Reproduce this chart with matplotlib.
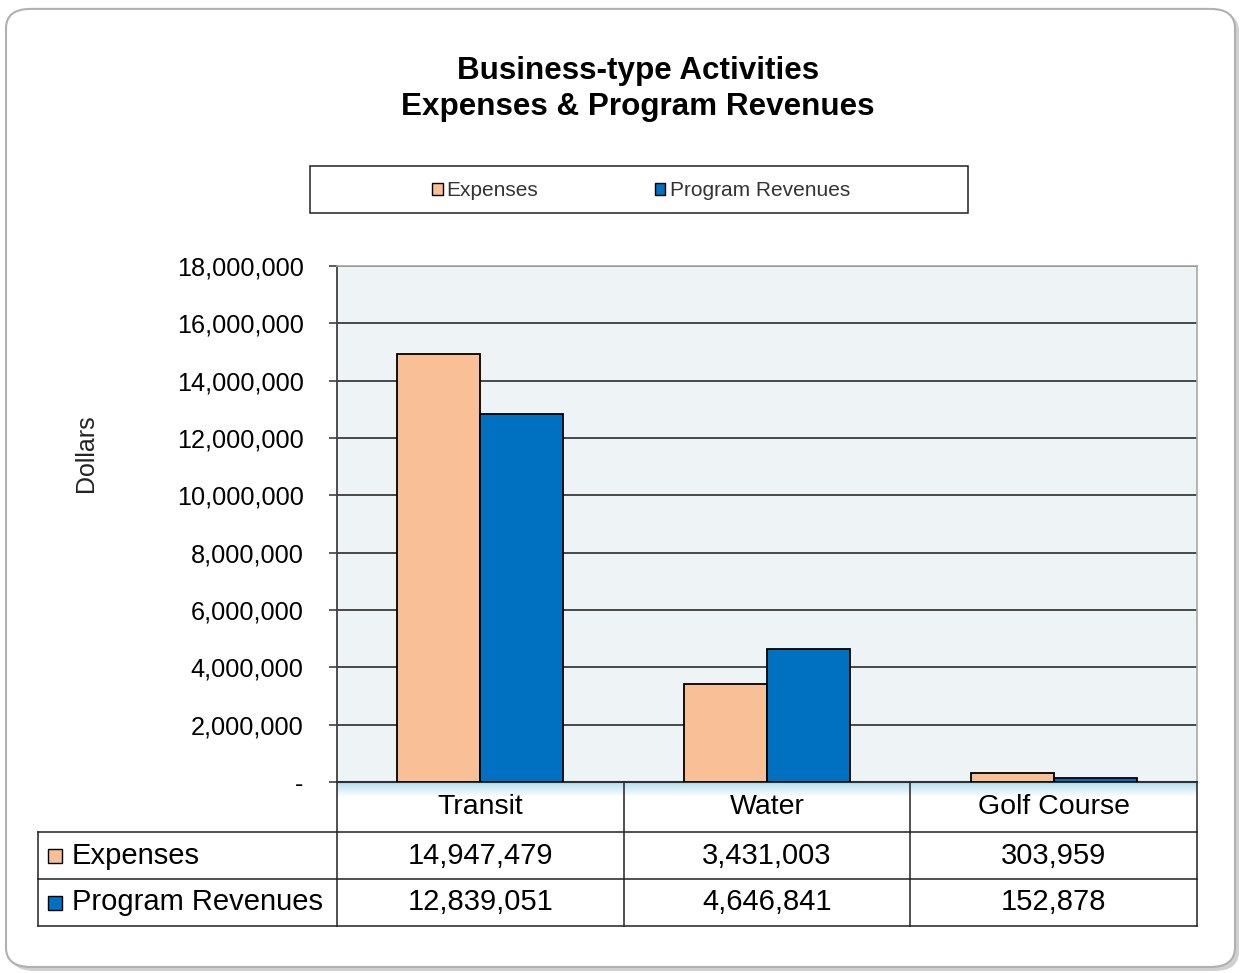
import numpy as np
import matplotlib.pyplot as plt
import matplotlib.transforms as mtransforms
from matplotlib.patches import Rectangle, FancyBboxPatch
from matplotlib.ticker import FuncFormatter
from matplotlib.colors import LinearSegmentedColormap

plt.rcParams['font.family'] = ['Liberation Sans', 'DejaVu Sans']

# Chart data
categories = ['Transit', 'Water', 'Golf Course']
series_names = ['Expenses', 'Program Revenues']
expenses = [14947479, 3431003, 303959]
revenues = [12839051, 4646841, 152878]
colors = ['#F9BF96', '#0070C0']

W, H = 1241, 973
fig = plt.figure(figsize=(W / 100, H / 100), dpi=100)


def fx(px):
    return px / W


def fy(py):
    return 1 - py / H


# Rounded outer frame with a soft shadow
fig.patches.append(FancyBboxPatch((fx(10), fy(971)), fx(1229), 963 / H - 0.004,
                                  boxstyle='round,pad=0,rounding_size=0.02',
                                  transform=fig.transFigure, facecolor='#d0d0d0',
                                  edgecolor='none', zorder=-5))
fig.patches.append(FancyBboxPatch((fx(6), fy(967)), fx(1229), 962 / H - 0.004,
                                  boxstyle='round,pad=0,rounding_size=0.02',
                                  transform=fig.transFigure, facecolor='white',
                                  edgecolor='#b0b0b0', linewidth=1.5, zorder=-4))

# Title
fig.text(fx(638), fy(89), 'Business-type Activities\nExpenses & Program Revenues',
         ha='center', va='center', fontsize=22.6, fontweight='bold',
         linespacing=1.3)

# Light blue shade under the axis line
gax = fig.add_axes([fx(337), fy(797), fx(860), 15 / H])
gax.set_zorder(-2)
grad = np.linspace(1, 0, 50).reshape(-1, 1)
cmap = LinearSegmentedColormap.from_list('shade', ['white', '#b5dfec'])
gax.imshow(grad, aspect='auto', cmap=cmap, extent=[0, 1, 0, 1], vmin=0, vmax=1)
gax.set_axis_off()

# Main axes
ax = fig.add_axes([fx(337), fy(782), fx(860), 516 / H])
ax.set_facecolor('#EEF3F6')
x = np.arange(len(categories))
bw = 0.29
ax.bar(x - bw / 2, expenses, bw, color=colors[0], edgecolor='black',
       linewidth=1.3, zorder=3)
ax.bar(x + bw / 2, revenues, bw, color=colors[1], edgecolor='black',
       linewidth=1.3, zorder=3)

ax.set_xlim(-0.5, len(categories) - 0.5)
ax.set_ylim(0, 18000000)
ax.set_yticks(np.arange(0, 18000001, 2000000))
ax.yaxis.set_major_formatter(FuncFormatter(
    lambda v, p: '-' if v == 0 else f'{int(v):,}'))
ax.tick_params(axis='y', labelsize=18.2, length=6, width=1.2, pad=18,
               color='#404040')
ax.set_xticks([])
ax.grid(axis='y', color='#3a3a3a', linewidth=1.3, zorder=1)
for s in ['top', 'right']:
    ax.spines[s].set_color('#a8a8a8')
    ax.spines[s].set_linewidth(1.2)
ax.spines['left'].set_color('#404040')
ax.spines['left'].set_linewidth(1.3)
ax.spines['bottom'].set_color('#303030')
ax.spines['bottom'].set_linewidth(1.5)
ax.set_ylabel('Dollars', fontsize=18, labelpad=0, color='#222222')
ax.yaxis.set_label_coords((98 - 337) / 860, 0.637)

# Data table below the axes
trans = mtransforms.blended_transform_factory(ax.transData, ax.transAxes)
px_per_y = 1 / 516
row_y = [0, -50 * px_per_y, -97 * px_per_y, -144 * px_per_y]
left_x = -0.5 - 299 * 3 / 860
right_x = len(categories) - 0.5
lc = '#202020'
lw = 1.1
for yy in row_y[1:]:
    ax.plot([left_x, right_x], [yy, yy], color=lc, lw=lw, transform=trans,
            clip_on=False)
for i in range(len(categories) + 1):
    ax.plot([i - 0.5, i - 0.5], [row_y[0], row_y[3]], color=lc, lw=lw,
            transform=trans, clip_on=False)
ax.plot([left_x, left_x], [row_y[1], row_y[3]], color=lc, lw=lw,
        transform=trans, clip_on=False)

for i, c in enumerate(categories):
    ax.text(i, (row_y[0] + row_y[1]) / 2, c, transform=trans, ha='center',
            va='center', fontsize=20.5)
for r, (name, vals) in enumerate(zip(series_names, [expenses, revenues])):
    yc = (row_y[r + 1] + row_y[r + 2]) / 2
    ax.plot([left_x + 17 * 3 / 860], [yc], marker='s', markersize=10,
            markerfacecolor=colors[r], markeredgecolor='black',
            markeredgewidth=1.0, transform=trans, clip_on=False)
    ax.text(left_x + 34 * 3 / 860, yc, name, transform=trans, ha='left',
            va='center', fontsize=21)
    for i, v in enumerate(vals):
        ax.text(i, yc, f'{v:,}', transform=trans, ha='center', va='center',
                fontsize=21)

# Legend
fig.patches.append(Rectangle((fx(310), fy(213)), fx(658), 47 / H,
                             transform=fig.transFigure, facecolor='white',
                             edgecolor='#202020', linewidth=1.1, zorder=-1))
handles = [Rectangle((0, 0), 1, 1, facecolor=c, edgecolor='black', linewidth=1.0)
           for c in colors]
fig.legend(handles, series_names, loc='center', bbox_to_anchor=(fx(641), fy(191)),
           ncol=2, frameon=False, fontsize=15, handlelength=0.5,
           handleheight=0.5, handletextpad=0.2, columnspacing=5.6,
           labelcolor='#333333')

fig.savefig('out.png', dpi=100)
